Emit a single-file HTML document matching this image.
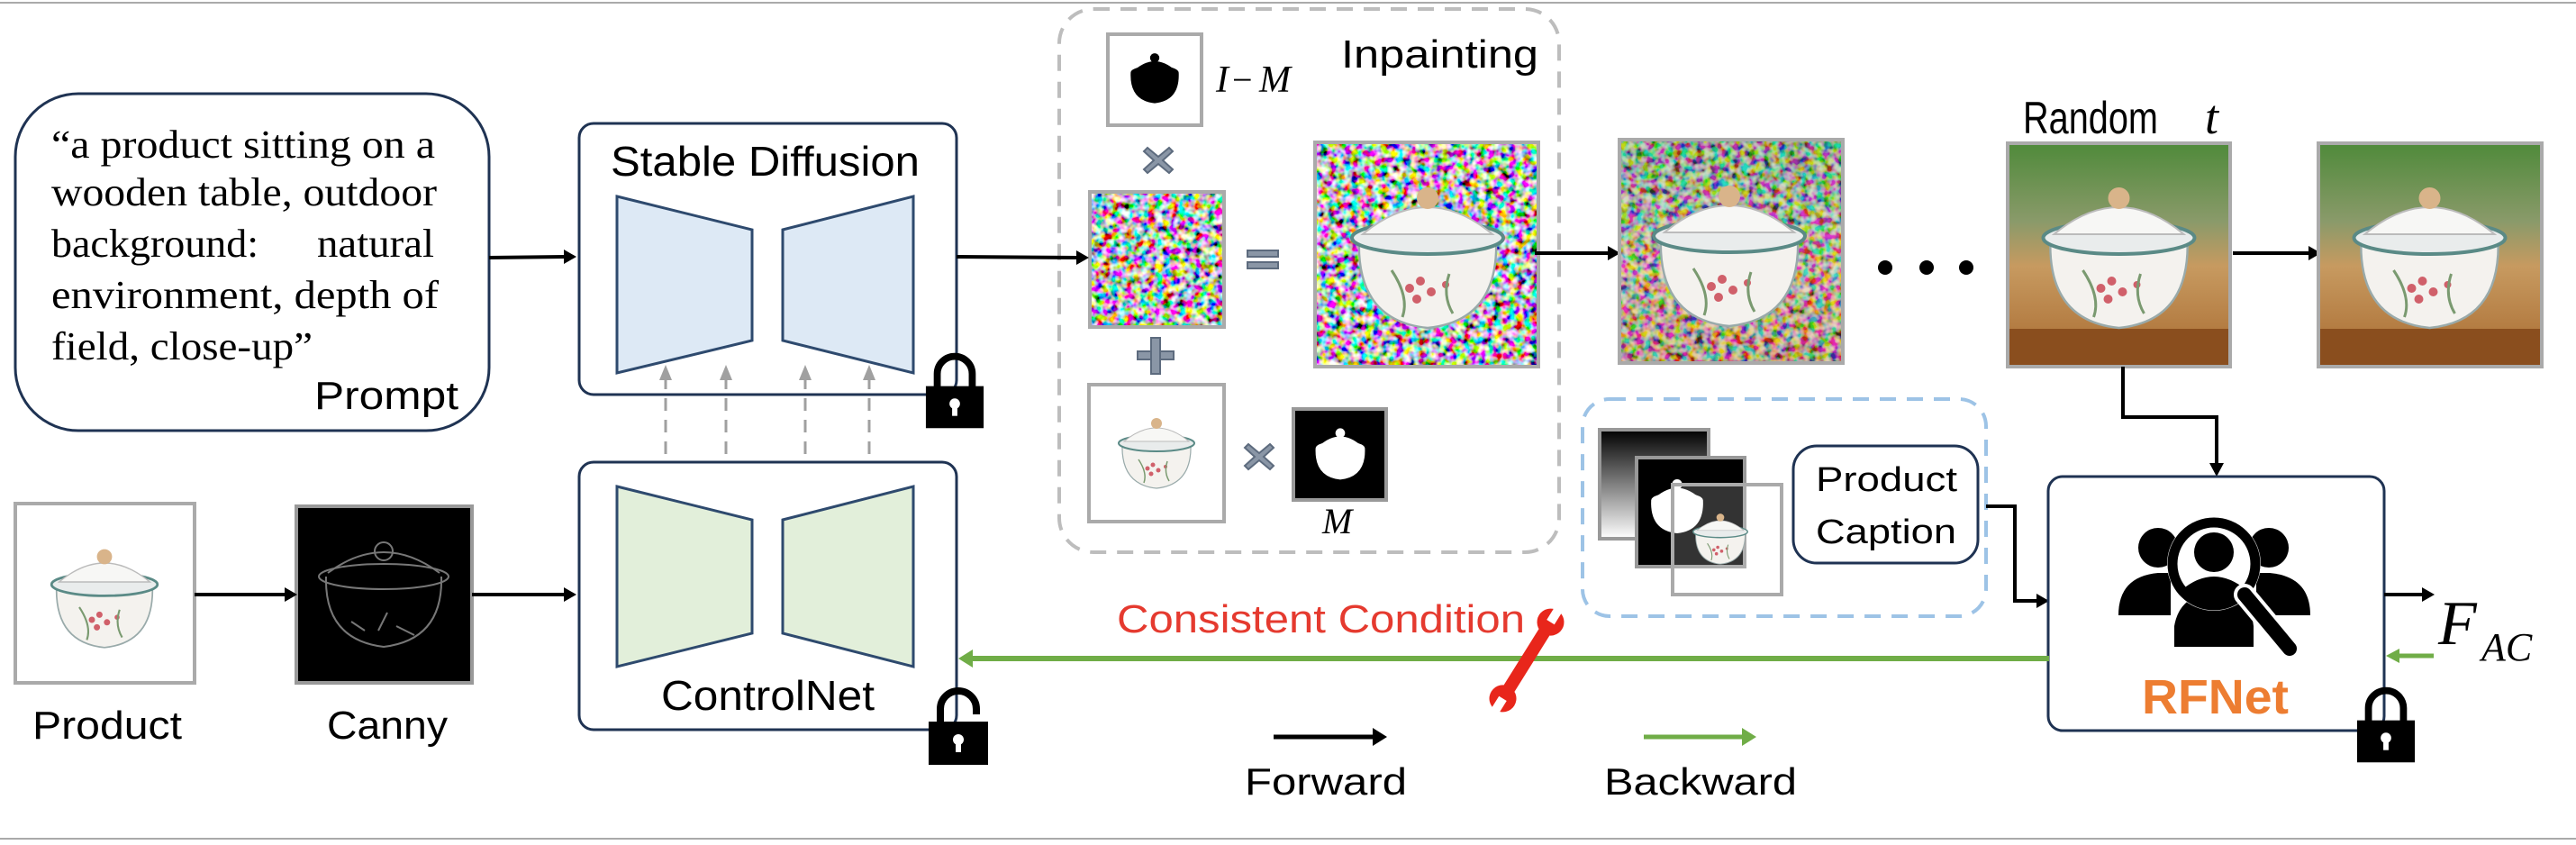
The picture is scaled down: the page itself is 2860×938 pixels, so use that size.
<!DOCTYPE html>
<html><head><meta charset="utf-8"><style>
html,body{margin:0;padding:0;background:#fff;}
svg{display:block;}
text{font-family:"Liberation Sans",sans-serif;}
.serif{font-family:"Liberation Serif",serif;}
</style></head><body>
<svg width="2860" height="938" viewBox="0 0 2860 938" xmlns="http://www.w3.org/2000/svg">
<defs>
  <filter id="noise" x="0" y="0" width="100%" height="100%">
    <feTurbulence type="fractalNoise" baseFrequency="0.12" numOctaves="2" seed="3"/>
    <feColorMatrix type="matrix" values="3.2 0 0 0 -1.1  0 3.2 0 0 -1.1  0 0 3.2 0 -1.1  0 0 0 0 1"/>
  </filter>
  <symbol id="pot" viewBox="0 0 100 100">
    <path d="M12 42 Q10 88 50 92 Q90 88 88 42 Z" fill="#f4f2ee" stroke="#9aa" stroke-width="1.2"/>
    <ellipse cx="50" cy="42" rx="42" ry="9" fill="#e9ecec" stroke="#5a8a86" stroke-width="2"/>
    <path d="M14 40 Q50 10 86 40 Z" fill="#f7f7f5" stroke="#bbb" stroke-width="1"/>
    <circle cx="50" cy="20" r="6" fill="#d9b48a"/>
    <g fill="#d0606a"><circle cx="40" cy="70" r="2.5"/><circle cx="46" cy="66" r="2.5"/><circle cx="52" cy="72" r="2.5"/><circle cx="44" cy="76" r="2.5"/><circle cx="60" cy="68" r="2"/></g>
    <path d="M30 60 Q40 75 36 86 M62 62 Q58 74 64 84" stroke="#7a9a70" stroke-width="1.5" fill="none"/>
  </symbol>
  <symbol id="potmask" viewBox="0 0 100 100">
    <path d="M14 44 Q12 86 50 90 Q88 86 86 44 Q86 36 50 32 Q14 36 14 44 Z"/>
    <path d="M20 40 Q50 14 80 40 Z"/>
    <circle cx="50" cy="22" r="7"/>
  </symbol>
  <symbol id="lock" viewBox="0 0 70 90">
    <path d="M15 42 V26 A20 20 0 0 1 55 26 V42" fill="none" stroke="#000" stroke-width="8"/>
    <rect x="2" y="40" width="66" height="48" fill="#000"/>
    <circle cx="35" cy="60" r="6" fill="#fff"/><rect x="32" y="62" width="6" height="12" fill="#fff"/>
  </symbol>
  <symbol id="unlock" viewBox="0 0 70 90">
    <path d="M15 40 V26 A20 20 0 0 1 55 26 V32" fill="none" stroke="#000" stroke-width="8"/>
    <rect x="2" y="40" width="66" height="48" fill="#000"/>
    <circle cx="35" cy="60" r="6" fill="#fff"/><rect x="32" y="62" width="6" height="12" fill="#fff"/>
  </symbol>
  <linearGradient id="bg" x1="0" y1="0" x2="0" y2="1">
    <stop offset="0" stop-color="#4f8a3a"/><stop offset="0.35" stop-color="#8a9a6a"/><stop offset="0.55" stop-color="#c79a60"/><stop offset="1" stop-color="#a86a30"/>
  </linearGradient>
  <linearGradient id="gr" x1="0" y1="0" x2="0" y2="1">
    <stop offset="0" stop-color="#000"/><stop offset="1" stop-color="#fff"/>
  </linearGradient>
</defs>

<line x1="0" y1="3" x2="2860" y2="3" stroke="#aaa" stroke-width="2"/>
<line x1="0" y1="931" x2="2860" y2="931" stroke="#aaa" stroke-width="2"/>

<rect x="17" y="104" width="526" height="374" rx="70" fill="#fff" stroke="#1f3353" stroke-width="3"/>
<g class="serif" font-size="44" fill="#000">
  <text class="serif" x="57" y="175" textLength="426" lengthAdjust="spacingAndGlyphs">“a product sitting on a</text>
  <text class="serif" x="57" y="228" textLength="428" lengthAdjust="spacingAndGlyphs">wooden table, outdoor</text>
  <text class="serif" x="57" y="285" textLength="230" lengthAdjust="spacingAndGlyphs">background:</text>
  <text class="serif" x="352" y="285" textLength="130" lengthAdjust="spacingAndGlyphs">natural</text>
  <text class="serif" x="57" y="342" textLength="430" lengthAdjust="spacingAndGlyphs">environment, depth of</text>
  <text class="serif" x="57" y="399" textLength="290" lengthAdjust="spacingAndGlyphs">field, close-up”</text>
</g>
<text x="349" y="454" font-size="44" textLength="160" lengthAdjust="spacingAndGlyphs">Prompt</text>

<line x1="543" y1="286" x2="628" y2="285" stroke="#000" stroke-width="4"/>
<polygon points="640,285 626,277 626,293" fill="#000"/>

<rect x="643" y="137" width="419" height="301" rx="16" fill="#fff" stroke="#1f3353" stroke-width="3"/>
<text x="678" y="195" font-size="46" textLength="343" lengthAdjust="spacingAndGlyphs">Stable Diffusion</text>
<polygon points="685,218 835,255 835,378 685,414" fill="#dde9f5" stroke="#2e4a6e" stroke-width="3"/>
<polygon points="869,255 1014,218 1014,414 869,378" fill="#dde9f5" stroke="#2e4a6e" stroke-width="3"/>
<use href="#lock" x="1026" y="389" width="68" height="89"/>

<g stroke="#a0a0a0" stroke-width="3" stroke-dasharray="14,10">
  <line x1="739" y1="552" x2="739" y2="418"/><line x1="806" y1="552" x2="806" y2="418"/>
  <line x1="894" y1="552" x2="894" y2="418"/><line x1="965" y1="552" x2="965" y2="418"/>
</g>
<g fill="#a0a0a0">
  <polygon points="739,405 732,422 746,422"/><polygon points="806,405 799,422 813,422"/>
  <polygon points="894,405 887,422 901,422"/><polygon points="965,405 958,422 972,422"/>
</g>

<rect x="643" y="513" width="419" height="297" rx="16" fill="#fff" stroke="#1f3353" stroke-width="3"/>
<polygon points="685,540 835,577 835,703 685,740" fill="#e2efda" stroke="#2e4a6e" stroke-width="3"/>
<polygon points="869,577 1014,540 1014,740 869,703" fill="#e2efda" stroke="#2e4a6e" stroke-width="3"/>
<text x="734" y="788" font-size="46" textLength="237" lengthAdjust="spacingAndGlyphs">ControlNet</text>
<use href="#unlock" x="1029" y="760" width="70" height="92"/>

<rect x="17" y="559" width="199" height="199" fill="#fff" stroke="#aaa" stroke-width="4"/>
<use href="#pot" x="36" y="590" width="160" height="140"/>
<rect x="329" y="562" width="195" height="196" fill="#000" stroke="#999" stroke-width="4"/>
<g stroke="#777" stroke-width="2" fill="none">
  <ellipse cx="426" cy="640" rx="72" ry="14"/><path d="M362 640 Q360 710 426 718 Q492 710 490 640"/>
  <path d="M364 636 Q426 590 488 636"/><circle cx="426" cy="612" r="10"/>
  <path d="M390 690 L405 700 M440 695 L460 705 M420 700 L430 680"/>
</g>
<line x1="216" y1="660" x2="318" y2="660" stroke="#000" stroke-width="4"/>
<polygon points="330,660 316,652 316,668" fill="#000"/>
<line x1="524" y1="660" x2="628" y2="660" stroke="#000" stroke-width="4"/>
<polygon points="640,660 626,652 626,668" fill="#000"/>
<text x="36" y="820" font-size="44" textLength="166" lengthAdjust="spacingAndGlyphs">Product</text>
<text x="363" y="820" font-size="44" textLength="134" lengthAdjust="spacingAndGlyphs">Canny</text>

<rect x="1176" y="10" width="555" height="603" rx="38" fill="none" stroke="#bdbdbd" stroke-width="4" stroke-dasharray="18,12"/>
<text x="1489" y="75" font-size="44" textLength="219" lengthAdjust="spacingAndGlyphs">Inpainting</text>
<rect x="1230" y="38" width="104" height="101" fill="#fff" stroke="#aaa" stroke-width="4"/>
<use href="#potmask" x="1245" y="48" width="74" height="74" fill="#000"/>
<text class="serif" x="1350" y="102" font-size="42" font-style="italic">I</text>
<text class="serif" x="1368" y="102" font-size="40">−</text>
<text class="serif" x="1398" y="102" font-size="42" font-style="italic">M</text>
<g fill="#8a96a6" stroke="#5d6b7e" stroke-width="2">
  <path d="M1274 164 L1286 174 L1298 164 L1302 168 L1291 178 L1302 188 L1298 192 L1286 182 L1274 192 L1270 188 L1281 178 L1270 168 Z"/>
  <path d="M1386 493 L1398 503 L1410 493 L1414 497 L1403 507 L1414 517 L1410 521 L1398 511 L1386 521 L1382 517 L1393 507 L1382 497 Z"/>
  <rect x="1385" y="278" width="34" height="7"/><rect x="1385" y="291" width="34" height="7"/>
  <rect x="1263" y="390" width="40" height="9"/><rect x="1278" y="375" width="10" height="40"/>
</g>
<rect x="1210" y="213" width="149" height="150" fill="#888" stroke="#aaa" stroke-width="4"/>
<rect x="1212" y="215" width="145" height="146" filter="url(#noise)"/>
<rect x="1209" y="427" width="150" height="152" fill="#fff" stroke="#aaa" stroke-width="4"/>
<use href="#pot" x="1224" y="450" width="120" height="100"/>
<rect x="1436" y="454" width="103" height="101" fill="#000" stroke="#999" stroke-width="4"/>
<use href="#potmask" x="1450" y="462" width="76" height="80" fill="#fff"/>
<text class="serif" x="1468" y="592" font-size="40" font-style="italic">M</text>

<line x1="1062" y1="285" x2="1196" y2="286" stroke="#000" stroke-width="4"/>
<polygon points="1209,286 1195,278 1195,294" fill="#000"/>

<rect x="1460" y="158" width="248" height="249" fill="#888" stroke="#aaa" stroke-width="4"/>
<rect x="1462" y="160" width="244" height="245" filter="url(#noise)"/>
<use href="#pot" x="1475" y="180" width="220" height="200"/>
<line x1="1704" y1="281" x2="1786" y2="281" stroke="#000" stroke-width="4"/>
<polygon points="1799,281 1785,273 1785,289" fill="#000"/>
<rect x="1798" y="155" width="248" height="248" fill="#777" stroke="#aaa" stroke-width="4"/>
<rect x="1800" y="157" width="244" height="244" filter="url(#noise)"/>
<rect x="1800" y="157" width="244" height="244" fill="url(#bg)" opacity="0.35"/>
<use href="#pot" x="1810" y="178" width="220" height="200"/>
<circle cx="2093" cy="297" r="8" fill="#000"/><circle cx="2139" cy="297" r="8" fill="#000"/><circle cx="2183" cy="297" r="8" fill="#000"/>
<text x="2246" y="148" font-size="50" textLength="150" lengthAdjust="spacingAndGlyphs">Random</text>
<text class="serif" x="2448" y="148" font-size="54" font-style="italic">t</text>
<rect x="2229" y="159" width="247" height="248" fill="url(#bg)" stroke="#aaa" stroke-width="4"/>
<rect x="2231" y="365" width="243" height="40" fill="#8a4e1e"/>
<use href="#pot" x="2240" y="180" width="225" height="200"/>
<line x1="2479" y1="281" x2="2563" y2="281" stroke="#000" stroke-width="4"/>
<polygon points="2577,281 2563,273 2563,289" fill="#000"/>
<rect x="2574" y="159" width="248" height="248" fill="url(#bg)" stroke="#aaa" stroke-width="4"/>
<rect x="2576" y="365" width="244" height="40" fill="#8a4e1e"/>
<use href="#pot" x="2585" y="180" width="225" height="200"/>

<polyline points="2357,407 2357,463 2461,463 2461,515" fill="none" stroke="#000" stroke-width="4"/>
<polygon points="2461,529 2453,514 2469,514" fill="#000"/>

<rect x="1757" y="443" width="448" height="241" rx="30" fill="none" stroke="#9dc3e6" stroke-width="4" stroke-dasharray="18,12"/>
<rect x="1776" y="477" width="121" height="121" fill="url(#gr)" stroke="#999" stroke-width="4"/>
<rect x="1817" y="508" width="120" height="121" fill="#000" stroke="#999" stroke-width="4"/>
<use href="#potmask" x="1822" y="520" width="80" height="80" fill="#fff"/>
<rect x="1857" y="538" width="121" height="122" fill="#fff" fill-opacity="0.2" stroke="#aaa" stroke-width="4"/>
<use href="#pot" x="1870" y="560" width="80" height="72"/>
<rect x="1991" y="495" width="205" height="130" rx="26" fill="#fff" stroke="#1f3353" stroke-width="3"/>
<text x="2016" y="545" font-size="38" textLength="157" lengthAdjust="spacingAndGlyphs">Product</text>
<text x="2016" y="603" font-size="38" textLength="156" lengthAdjust="spacingAndGlyphs">Caption</text>
<polyline points="2205,562 2237,562 2237,667 2262,667" fill="none" stroke="#000" stroke-width="4"/>
<polygon points="2275,667 2261,659 2261,675" fill="#000"/>

<rect x="2274" y="529" width="373" height="282" rx="16" fill="#fff" stroke="#1f3353" stroke-width="3"/>
<g fill="#000">
  <circle cx="2396" cy="608" r="22"/><path d="M2352 683 Q2352 640 2396 636 L2410 636 L2410 683 Z"/>
  <circle cx="2519" cy="608" r="22"/><path d="M2565 683 Q2565 640 2520 636 L2505 636 L2505 683 Z"/>
  <path d="M2414 718 L2414 695 Q2420 660 2458 658 Q2498 660 2502 695 L2502 718 Z"/>
</g>
<circle cx="2458" cy="626" r="52" fill="#fff"/>
<circle cx="2458" cy="626" r="46" fill="none" stroke="#000" stroke-width="11"/>
<circle cx="2458" cy="613" r="22" fill="#000"/>
<path d="M2422 655 Q2440 640 2458 640 Q2476 640 2494 655 Q2478 670 2458 670 Q2438 670 2422 655 Z" fill="#000"/>
<line x1="2492" y1="660" x2="2542" y2="720" stroke="#fff" stroke-width="24" stroke-linecap="round"/>
<line x1="2492" y1="660" x2="2542" y2="720" stroke="#000" stroke-width="16" stroke-linecap="round"/>
<text x="2378" y="792" font-size="54" font-weight="bold" fill="#ed7d31" textLength="163" lengthAdjust="spacingAndGlyphs">RFNet</text>
<use href="#lock" x="2615" y="760" width="68" height="89"/>

<line x1="2647" y1="660" x2="2690" y2="660" stroke="#000" stroke-width="4"/>
<polygon points="2703,660 2689,652 2689,668" fill="#000"/>
<text class="serif" x="2707" y="715" font-size="70" font-style="italic">F</text>
<text class="serif" x="2755" y="733" font-size="44" font-style="italic">AC</text>
<line x1="2702" y1="728" x2="2662" y2="728" stroke="#70ad47" stroke-width="5"/>
<polygon points="2649,728 2664,720 2664,736" fill="#70ad47"/>

<line x1="2275" y1="731" x2="1078" y2="731" stroke="#70ad47" stroke-width="6"/>
<polygon points="1064,731 1080,721 1080,741" fill="#70ad47"/>
<text x="1240" y="702" font-size="44" fill="#e53a2f" textLength="453" lengthAdjust="spacingAndGlyphs">Consistent Condition</text>
<g transform="translate(1695,733) rotate(-58)">
  <rect x="-45" y="-7" width="90" height="14" fill="#e8261b"/>
  <circle cx="-50" cy="0" r="15" fill="#e8261b"/><rect x="-68" y="-5" width="18" height="10" fill="#fff"/>
  <circle cx="50" cy="0" r="15" fill="#e8261b"/><rect x="50" y="-5" width="18" height="10" fill="#fff"/>
</g>

<line x1="1414" y1="818" x2="1526" y2="818" stroke="#000" stroke-width="5"/>
<polygon points="1540,818 1524,808 1524,828" fill="#000"/>
<text x="1382" y="882" font-size="42" textLength="180" lengthAdjust="spacingAndGlyphs">Forward</text>
<line x1="1825" y1="818" x2="1936" y2="818" stroke="#70ad47" stroke-width="5"/>
<polygon points="1950,818 1934,808 1934,828" fill="#70ad47"/>
<text x="1781" y="882" font-size="42" textLength="214" lengthAdjust="spacingAndGlyphs">Backward</text>
</svg>
</body></html>
